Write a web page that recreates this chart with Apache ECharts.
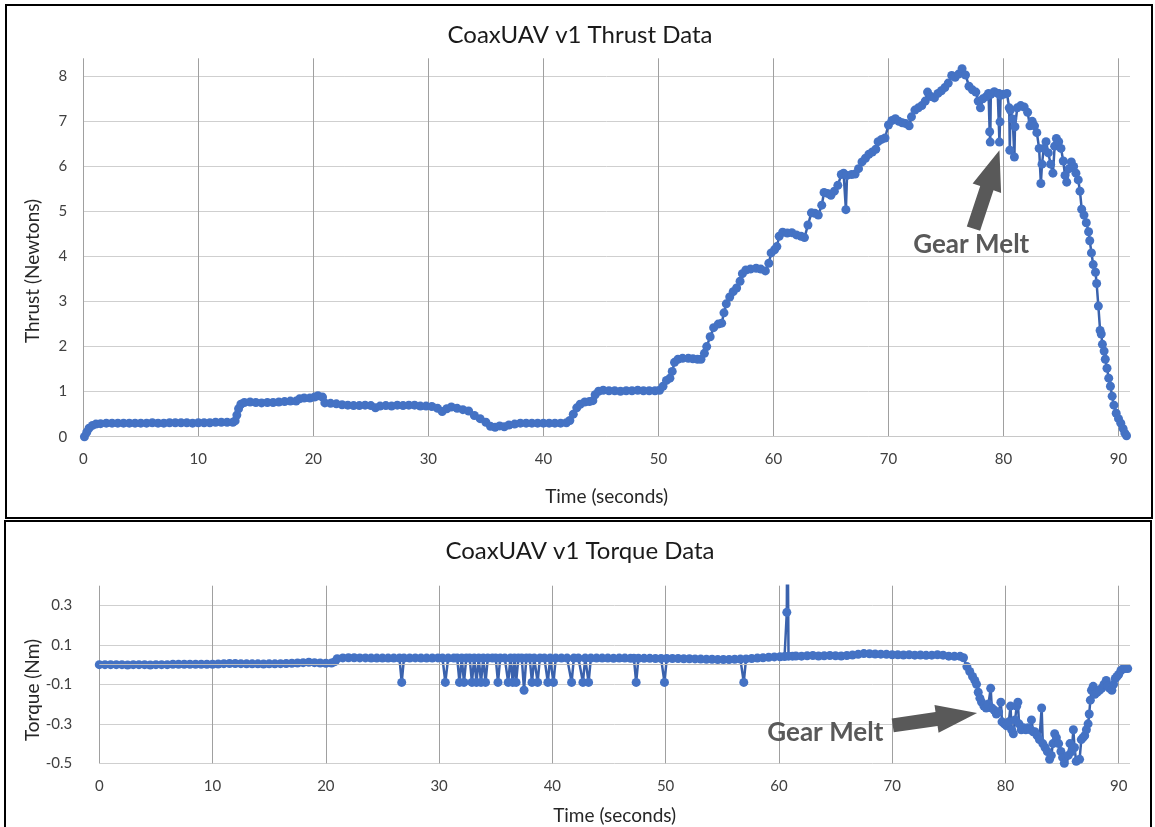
<!DOCTYPE html>
<html><head><meta charset="utf-8">
<script src="https://cdn.jsdelivr.net/npm/echarts@6/dist/echarts.min.js"></script>
<style>html,body{margin:0;padding:0;background:#fff}#c{width:1155px;height:827px}</style>
</head><body><div id="c"></div>
<script>
// ---------------- DATA ----------------
const thrustTitle = 'CoaxUAV v1 Thrust Data';
const torqueTitle = 'CoaxUAV v1 Torque Data';
const timeLabel = 'Time (seconds)';
const thrustLabel = 'Thrust (Newtons)';
const torqueLabel = 'Torque (Nm)';
const noteText = 'Gear Melt';

const timeTicks = [0, 10, 20, 30, 40, 50, 60, 70, 80, 90];
const thrustTicks = [0, 1, 2, 3, 4, 5, 6, 7, 8];
const torqueTicks = [-0.5, -0.3, -0.1, 0.1, 0.3];

const thrustTime = [
  0.1, 0.3, 0.5, 0.8, 1.1, 1.5, 2.0, 2.5, 3.0, 3.5, 4.0, 4.5, 5.0, 5.5, 6.0, 6.5, 7.0, 7.5, 8.0, 8.5,
  9.0, 9.5, 10.0, 10.5, 11.0, 11.5, 12.0, 12.5, 13.0, 13.2, 13.35, 13.5, 13.7, 14.0, 14.5, 15.0, 15.5, 16.0, 16.5, 17.0,
  17.5, 18.0, 18.5, 18.8, 19.2, 19.7, 20.1, 20.4, 20.8, 21.0, 21.5, 22.0, 22.5, 23.0, 23.5, 24.0, 24.5, 25.0, 25.4, 25.8,
  26.3, 26.8, 27.3, 27.8, 28.3, 28.8, 29.3, 29.8, 30.3, 30.8, 31.2, 31.6, 32.0, 32.5, 33.0, 33.5, 34.0, 34.5, 35.0, 35.4,
  35.8, 36.2, 36.6, 37.0, 37.5, 38.0, 38.5, 39.0, 39.5, 40.0, 40.5, 41.0, 41.5, 42.0, 42.3, 42.6, 42.9, 43.2, 43.6, 44.0,
  44.3, 44.5, 44.8, 45.2, 45.7, 46.2, 46.7, 47.2, 47.7, 48.2, 48.7, 49.2, 49.7, 50.1, 50.4, 50.7, 51.0, 51.2, 51.4, 51.7,
  52.1, 52.6, 53.0, 53.4, 53.7, 54.0, 54.2, 54.5, 54.8, 55.2, 55.5, 55.7, 55.9, 56.2, 56.5, 56.8, 57.1, 57.3, 57.6, 58.0,
  58.5, 58.9, 59.3, 59.6, 59.8, 60.1, 60.3, 60.5, 60.8, 61.2, 61.6, 62.0, 62.4, 62.7, 63.0, 63.3, 63.6, 63.9, 64.2, 64.4,
  64.7, 65.0, 65.3, 65.6, 65.9, 66.1, 66.3, 66.4, 66.8, 67.1, 67.4, 67.7, 68.0, 68.3, 68.6, 68.9, 69.1, 69.4, 69.7, 70.0,
  70.3, 70.6, 70.9, 71.2, 71.5, 71.8, 72.0, 72.3, 72.6, 72.9, 73.2, 73.4, 73.7, 74.0, 74.3, 74.6, 74.9, 75.2, 75.5, 75.8,
  76.1, 76.4, 76.7, 77.0, 77.3, 77.6, 77.8, 78.0, 78.2, 78.5, 78.7, 78.8, 78.85, 78.9, 79.2, 79.5, 79.6, 79.65, 79.7, 79.75,
  80.0, 80.3, 80.5, 80.55, 80.6, 80.8, 80.95, 81.0, 81.2, 81.5, 81.8, 82.1, 82.3, 82.5, 82.7, 82.9, 83.1, 83.25, 83.35, 83.5,
  83.7, 83.9, 84.1, 84.3, 84.45, 84.6, 84.8, 85.0, 85.2, 85.35, 85.5, 85.7, 85.9, 86.1, 86.3, 86.5, 86.65, 86.8, 87.0, 87.2,
  87.4, 87.5, 87.65, 87.8, 88.0, 88.1, 88.25, 88.4, 88.5, 88.6, 88.75, 88.85, 89.0, 89.15, 89.3, 89.45, 89.6, 89.8, 90.0, 90.2,
  90.4, 90.55, 90.7
];
const thrustNewtons = [
  0.00, 0.10, 0.19, 0.25, 0.28, 0.29, 0.30, 0.30, 0.30, 0.30, 0.30, 0.30, 0.30, 0.30, 0.31, 0.30, 0.30, 0.31, 0.31, 0.31,
  0.31, 0.30, 0.31, 0.31, 0.31, 0.32, 0.32, 0.32, 0.32, 0.35, 0.48, 0.62, 0.72, 0.76, 0.77, 0.76, 0.75, 0.76, 0.76, 0.77,
  0.78, 0.79, 0.79, 0.84, 0.86, 0.86, 0.88, 0.91, 0.88, 0.75, 0.74, 0.73, 0.71, 0.70, 0.69, 0.69, 0.70, 0.69, 0.64, 0.68,
  0.69, 0.68, 0.70, 0.69, 0.70, 0.70, 0.68, 0.68, 0.67, 0.63, 0.56, 0.62, 0.66, 0.63, 0.60, 0.57, 0.47, 0.40, 0.32, 0.23,
  0.21, 0.24, 0.22, 0.26, 0.28, 0.30, 0.30, 0.30, 0.30, 0.30, 0.30, 0.30, 0.30, 0.31, 0.36, 0.50, 0.64, 0.72, 0.77, 0.78,
  0.80, 0.93, 1.01, 1.03, 1.02, 1.02, 1.01, 1.02, 1.02, 1.03, 1.02, 1.02, 1.02, 1.03, 1.12, 1.25, 1.30, 1.45, 1.65, 1.72,
  1.74, 1.74, 1.73, 1.72, 1.72, 1.85, 2.00, 2.22, 2.42, 2.50, 2.52, 2.75, 2.95, 3.10, 3.22, 3.30, 3.45, 3.62, 3.70, 3.72,
  3.74, 3.72, 3.68, 3.85, 4.08, 4.15, 4.22, 4.45, 4.54, 4.52, 4.53, 4.48, 4.45, 4.42, 4.70, 4.97, 4.96, 4.92, 5.14, 5.42,
  5.40, 5.36, 5.45, 5.58, 5.82, 5.85, 5.04, 5.80, 5.82, 5.83, 5.95, 6.10, 6.18, 6.27, 6.32, 6.38, 6.55, 6.60, 6.63, 6.92,
  7.02, 7.06, 7.00, 6.97, 6.95, 6.90, 7.10, 7.25, 7.30, 7.35, 7.45, 7.65, 7.55, 7.52, 7.62, 7.68, 7.75, 7.85, 8.02, 7.98,
  8.05, 8.17, 8.03, 7.78, 7.70, 7.65, 7.45, 7.30, 7.50, 7.55, 7.62, 6.77, 6.54, 7.60, 7.66, 7.62, 7.62, 6.54, 6.99, 7.58,
  7.60, 7.62, 7.30, 6.36, 7.25, 7.05, 6.21, 6.88, 7.30, 7.35, 7.32, 7.20, 6.90, 7.00, 6.90, 6.75, 6.40, 5.62, 6.05, 6.40,
  6.55, 6.30, 6.05, 5.85, 6.45, 6.62, 6.55, 6.40, 6.12, 5.80, 5.65, 5.95, 6.10, 6.00, 5.85, 5.70, 5.45, 5.05, 4.92, 4.75,
  4.55, 4.35, 4.08, 3.82, 3.65, 3.40, 2.90, 2.36, 2.28, 2.05, 1.90, 1.72, 1.52, 1.30, 1.12, 0.90, 0.70, 0.52, 0.40, 0.30,
  0.18, 0.08, 0.02
];

const torqueTime = [
  0.0, 0.5, 1.0, 1.5, 2.0, 2.5, 3.0, 3.5, 4.0, 4.5, 5.0, 5.5, 6.0, 6.5, 7.0, 7.5, 8.0, 8.5, 9.0, 9.5,
  10.0, 10.5, 11.0, 11.5, 12.0, 12.5, 13.0, 13.5, 14.0, 14.5, 15.0, 15.5, 16.0, 16.5, 17.0, 17.5, 18.0, 18.5, 19.0, 19.5,
  20.0, 20.5, 20.8, 21.0, 21.5, 22.0, 22.5, 23.0, 23.5, 24.0, 24.5, 25.0, 25.5, 26.0, 26.5, 26.7, 26.9, 27.4, 27.9, 28.4,
  28.9, 29.4, 29.9, 30.3, 30.55, 30.8, 31.3, 31.6, 31.8, 32.0, 32.2, 32.4, 32.7, 32.9, 33.1, 33.3, 33.5, 33.7, 33.9, 34.1,
  34.3, 34.7, 35.0, 35.2, 35.4, 35.8, 36.1, 36.3, 36.5, 36.65, 36.8, 37.0, 37.3, 37.5, 37.7, 38.0, 38.2, 38.4, 38.7, 38.9,
  39.3, 39.6, 39.8, 40.1, 40.3, 40.8, 41.3, 41.7, 41.9, 42.3, 42.7, 42.9, 43.2, 43.4, 43.9, 44.4, 44.9, 45.4, 45.9, 46.4,
  46.9, 47.2, 47.4, 47.6, 48.1, 48.6, 49.1, 49.6, 49.9, 50.1, 50.6, 51.1, 51.6, 52.1, 52.6, 53.1, 53.6, 54.1, 54.6, 55.1,
  55.6, 56.1, 56.6, 56.9, 57.1, 57.6, 58.1, 58.6, 59.1, 59.6, 60.1, 60.5, 60.7, 60.75, 60.85, 61.2, 61.5, 62.0, 62.5, 63.0,
  63.5, 64.0, 64.5, 65.0, 65.5, 66.0, 66.5, 67.0, 67.5, 68.0, 68.5, 69.0, 69.5, 70.0, 70.5, 71.0, 71.5, 72.0, 72.5, 73.0,
  73.5, 74.0, 74.5, 75.0, 75.5, 76.0, 76.3, 76.6, 76.85, 77.1, 77.3, 77.45, 77.6, 77.75, 77.9, 78.1, 78.3, 78.5, 78.7, 78.8,
  79.0, 79.2, 79.4, 79.6, 79.7, 79.9, 80.1, 80.3, 80.45, 80.55, 80.7, 80.85, 81.0, 81.1, 81.2, 81.4, 81.6, 81.8, 82.0, 82.2,
  82.3, 82.45, 82.6, 82.8, 83.0, 83.2, 83.3, 83.5, 83.7, 83.9, 84.05, 84.2, 84.35, 84.5, 84.7, 84.9, 85.05, 85.2, 85.4, 85.55,
  85.7, 85.85, 86.0, 86.1, 86.25, 86.4, 86.55, 86.7, 86.85, 87.0, 87.15, 87.3, 87.4, 87.5, 87.6, 87.75, 87.9, 88.1, 88.3, 88.5,
  88.7, 88.9, 89.05, 89.2, 89.4, 89.55, 89.7, 89.85, 90.0, 90.2, 90.4, 90.6, 90.8
];
const torqueNm = [
  0.000, 0.000, 0.000, 0.000, 0.000, -0.002, 0.000, 0.000, 0.000, -0.002, 0.000, 0.000, 0.000, 0.002, 0.002, 0.002, 0.002, 0.002, 0.002, 0.002,
  0.002, 0.003, 0.005, 0.006, 0.006, 0.005, 0.004, 0.004, 0.004, 0.003, 0.004, 0.004, 0.005, 0.006, 0.007, 0.008, 0.010, 0.012, 0.010, 0.008,
  0.007, 0.008, 0.015, 0.030, 0.034, 0.035, 0.035, 0.034, 0.034, 0.033, 0.033, 0.033, 0.033, 0.033, 0.033, -0.090, 0.033, 0.033, 0.034, 0.033,
  0.033, 0.033, 0.034, 0.033, -0.090, 0.033, 0.033, 0.033, -0.090, 0.033, -0.090, 0.033, 0.033, -0.090, 0.033, -0.090, 0.033, -0.090, 0.033, -0.090,
  0.033, 0.033, 0.033, -0.090, 0.033, 0.033, -0.090, 0.033, -0.090, 0.033, -0.090, 0.033, 0.033, -0.130, 0.033, 0.033, -0.090, 0.033, -0.090, 0.033,
  0.033, -0.090, 0.033, -0.090, 0.033, 0.033, 0.033, -0.090, 0.033, 0.033, -0.090, 0.033, -0.090, 0.033, 0.033, 0.033, 0.033, 0.032, 0.033, 0.033,
  0.032, 0.032, -0.090, 0.032, 0.032, 0.032, 0.031, 0.031, -0.090, 0.031, 0.031, 0.031, 0.030, 0.030, 0.029, 0.028, 0.027, 0.027, 0.026, 0.026,
  0.026, 0.027, 0.028, -0.090, 0.029, 0.031, 0.033, 0.035, 0.037, 0.039, 0.040, 0.041, 0.265, 0.900, 0.043, 0.043, 0.044, 0.043, 0.045, 0.046,
  0.044, 0.045, 0.046, 0.045, 0.044, 0.046, 0.049, 0.052, 0.056, 0.055, 0.054, 0.053, 0.052, 0.050, 0.050, 0.049, 0.050, 0.048, 0.049, 0.047,
  0.048, 0.050, 0.048, 0.043, 0.042, 0.042, 0.035, -0.010, -0.035, -0.060, -0.080, -0.100, -0.140, -0.170, -0.190, -0.210, -0.220, -0.200, -0.120, -0.220,
  -0.230, -0.250, -0.240, -0.190, -0.290, -0.300, -0.310, -0.290, -0.210, -0.330, -0.350, -0.280, -0.210, -0.190, -0.300, -0.330, -0.320, -0.330, -0.320, -0.330,
  -0.280, -0.340, -0.340, -0.360, -0.380, -0.220, -0.400, -0.420, -0.440, -0.480, -0.460, -0.400, -0.350, -0.370, -0.400, -0.440, -0.470, -0.500, -0.510, -0.460,
  -0.400, -0.440, -0.330, -0.420, -0.490, -0.510, -0.480, -0.380, -0.370, -0.360, -0.330, -0.300, -0.250, -0.180, -0.130, -0.110, -0.150, -0.140, -0.130, -0.120,
  -0.100, -0.080, -0.110, -0.120, -0.130, -0.100, -0.070, -0.060, -0.050, -0.030, -0.020, -0.020, -0.020
];

// Annotation anchors in data space: [time, value]
const thrustNoteText = [77.2, 4.27];
const thrustArrowTail = [77.39, 4.62];
const thrustArrowTip = [79.65, 6.36];
const torqueNoteText = [64.1, -0.345];
const torqueArrowTail = [70.05, -0.308];
const torqueArrowTip = [77.5, -0.245];

// ---------------- CHART ----------------
const FONT = 'Lato, "Open Sans", sans-serif';
const thrustData = thrustTime.map((t, i) => [t, thrustNewtons[i]]);
const torqueData = torqueTime.map((t, i) => [t, torqueNm[i]]);

const chart = echarts.init(document.getElementById('c'), null, {renderer: 'canvas'});

function xAxisCfg(gridIndex, nameGap, labelMargin) {
  return {
    type: 'value', gridIndex, min: timeTicks[0], max: 91, interval: 10,
    name: timeLabel, nameLocation: 'middle', nameGap,
    nameTextStyle: {fontFamily: FONT, fontSize: 19, color: '#262626'},
    axisLine: {show: true, lineStyle: {color: '#c8c8c8', width: 1}},
    axisTick: {show: false},
    axisLabel: {fontFamily: FONT, fontSize: 15, color: '#404040', margin: labelMargin, showMaxLabel: false,
      formatter: v => timeTicks.includes(v) ? String(v) : ''},
    splitLine: {show: true, showMaxLine: false, lineStyle: {color: '#a0a0a0', width: 1}}
  };
}

const option = {
  animation: false,
  backgroundColor: '#ffffff',
  grid: [
    {left: 83.3, top: 58.3, width: 1046.7, height: 378.4},
    {left: 99.3, top: 585.7, width: 1030.7, height: 177.6}
  ],
  xAxis: [xAxisCfg(0, 51, 15), xAxisCfg(1, 43, 15)],
  yAxis: [
    {
      type: 'value', gridIndex: 0, min: thrustTicks[0], max: 8.4, interval: 1,
      axisLine: {show: false}, axisTick: {show: false},
      axisLabel: {fontFamily: FONT, fontSize: 15, color: '#404040', margin: 16, showMaxLabel: false,
        formatter: v => thrustTicks.includes(v) ? String(v) : ''},
      splitLine: {show: true, showMaxLine: false, lineStyle: {color: '#cfcfcf', width: 1}}
    },
    {
      type: 'value', gridIndex: 1, min: torqueTicks[0], max: 0.4, interval: 0.2,
      axisLine: {show: false}, axisTick: {show: false},
      axisLabel: {fontFamily: FONT, fontSize: 15, color: '#404040', margin: 27, showMaxLabel: false,
        formatter: v => {
          const r = Math.round(v * 10) / 10;
          return torqueTicks.some(t => Math.abs(t - r) < 1e-9) ? r.toFixed(1) : '';
        }},
      splitLine: {show: true, showMaxLine: false, lineStyle: {color: '#cfcfcf', width: 1}}
    }
  ],
  series: [
    {
      type: 'line', xAxisIndex: 0, yAxisIndex: 0, data: thrustData, z: 3,
      symbol: 'circle', symbolSize: 9, showAllSymbol: true,
      itemStyle: {color: '#4472C4', borderWidth: 0},
      lineStyle: {color: '#3a62ad', width: 2.5},
      emphasis: {disabled: true}, clip: true
    },
    {
      type: 'line', xAxisIndex: 1, yAxisIndex: 1, data: [], z: 1, silent: true,
      markLine: {silent: true, symbol: 'none', label: {show: false},
        lineStyle: {color: '#bdbdbd', type: 'solid', width: 1},
        data: [{yAxis: 0}]}
    },
    {
      type: 'line', xAxisIndex: 1, yAxisIndex: 1, data: torqueData, z: 3,
      symbol: 'circle', symbolSize: 9, showAllSymbol: true,
      itemStyle: {color: '#4472C4', borderWidth: 0},
      lineStyle: {color: '#3a62ad', width: 2.5},
      emphasis: {disabled: true}, clip: true
    }
  ]
};
chart.setOption(option);

function arrowPoints(tail, tip, shaftW, headW, headL) {
  const dx = tip[0] - tail[0], dy = tip[1] - tail[1];
  const L = Math.hypot(dx, dy), ux = dx / L, uy = dy / L, px = -uy, py = ux;
  const bx = tip[0] - ux * headL, by = tip[1] - uy * headL;
  return [
    [tail[0] + px * shaftW / 2, tail[1] + py * shaftW / 2],
    [bx + px * shaftW / 2, by + py * shaftW / 2],
    [bx + px * headW / 2, by + py * headW / 2],
    [tip[0], tip[1]],
    [bx - px * headW / 2, by - py * headW / 2],
    [bx - px * shaftW / 2, by - py * shaftW / 2],
    [tail[0] - px * shaftW / 2, tail[1] - py * shaftW / 2]
  ];
}

const p = (g, d) => chart.convertToPixel({gridIndex: g}, d);
const noteStyle = {fill: '#595959', font: 'bold 26px ' + FONT, textAlign: 'center', textVerticalAlign: 'middle'};
const t1 = p(0, thrustNoteText), t2 = p(1, torqueNoteText);

chart.setOption({
  graphic: [
    {type: 'rect', shape: {x: 6, y: 5, width: 1146, height: 513}, style: {fill: 'none', stroke: '#000', lineWidth: 2}, silent: true, z: 0},
    {type: 'rect', shape: {x: 5, y: 521, width: 1146, height: 330}, style: {fill: 'none', stroke: '#000', lineWidth: 2}, silent: true, z: 0},
    {type: 'text', x: 580, y: 35, style: {text: thrustTitle, fill: '#1a1a1a', font: '24px ' + FONT, textAlign: 'center', textVerticalAlign: 'middle'}, silent: true},
    {type: 'text', x: 580, y: 551, style: {text: torqueTitle, fill: '#1a1a1a', font: '24px ' + FONT, textAlign: 'center', textVerticalAlign: 'middle'}, silent: true},
    {type: 'text', x: 33, y: 271, rotation: Math.PI / 2, style: {text: thrustLabel, fill: '#262626', font: '19px ' + FONT, textAlign: 'center', textVerticalAlign: 'middle'}, silent: true},
    {type: 'text', x: 33, y: 690, rotation: Math.PI / 2, style: {text: torqueLabel, fill: '#262626', font: '19px ' + FONT, textAlign: 'center', textVerticalAlign: 'middle'}, silent: true},
    {type: 'polygon', shape: {points: arrowPoints(p(0, thrustArrowTail), p(0, thrustArrowTip), 14, 30, 40)}, style: {fill: '#595959'}, silent: true, z: 10},
    {type: 'polygon', shape: {points: arrowPoints(p(1, torqueArrowTail), p(1, torqueArrowTip), 14, 28, 41)}, style: {fill: '#595959'}, silent: true, z: 10},
    {type: 'text', x: t1[0], y: t1[1], style: Object.assign({text: noteText}, noteStyle), silent: true, z: 10},
    {type: 'text', x: t2[0], y: t2[1], style: Object.assign({text: noteText}, noteStyle), silent: true, z: 10}
  ]
});
</script></body></html>
